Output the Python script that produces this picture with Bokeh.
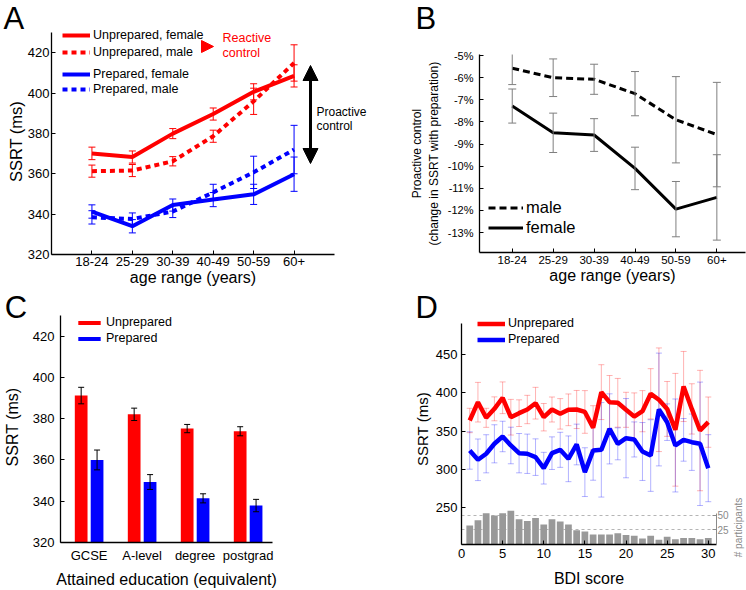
import math
from bokeh.plotting import figure
from bokeh.models import (ColumnDataSource, Whisker, TeeHead, Legend, LegendItem,
                          FixedTicker, Label, Arrow, NormalHead, LinearAxis, Range1d,
                          PrintfTickFormatter, Grid)
from bokeh.layouts import column, row
from bokeh.embed import file_html
from bokeh.resources import INLINE

# ---------------- data ----------------
age_groups = ["18-24", "25-29", "30-39", "40-49", "50-59", "60+"]
unprep_female = [370.1, 368.3, 379.9, 389.6, 400.6, 408.5]
unprep_female_err = [3.1, 3.0, 2.5, 3.0, 4.0, 5.5]
unprep_male = [361.3, 361.6, 366.2, 378.6, 395.9, 414.9]
unprep_male_err = [3.0, 3.0, 2.3, 3.0, 6.5, 9.0]
prep_female = [341.3, 334.0, 344.5, 347.2, 349.8, 359.8]
prep_female_err = [3.3, 3.3, 3.0, 3.5, 5.0, 8.5]
prep_male = [338.4, 337.6, 341.3, 350.8, 360.7, 372.0]
prep_male_err = [3.3, 3.0, 3.0, 4.0, 8.0, 12.0]

proactive_male = [-5.57, -6.00, -6.07, -6.72, -7.90, -8.57]
proactive_male_err = [0.74, 0.85, 0.68, 1.00, 1.95, 2.36]
proactive_female = [-7.28, -8.49, -8.59, -10.10, -11.94, -11.41]
proactive_female_err = [0.77, 0.89, 0.74, 0.96, 1.25, 1.93]
proactive_ticks = [-13, -12, -11, -10, -9, -8, -7, -6, -5]

education = ["GCSE", "A-level", "degree", "postgrad"]
edu_unprep = [391.2, 382.1, 375.2, 373.9]
edu_unprep_err = [4.0, 3.0, 2.0, 2.2]
edu_prep = [360.0, 349.3, 341.4, 337.9]
edu_prep_err = [4.8, 3.6, 2.2, 3.0]
ssrt_ticks_ac = [320, 340, 360, 380, 400, 420]

bdi_score = list(range(1, 31))
bdi_unprep = [363.8, 387.8, 367.3, 379.1, 393.6, 368.1, 373.4, 378.2, 386.5, 368.1,
              378.2, 372.5, 377.8, 378.2, 375.0, 354.2, 401.0, 387.8, 387.0, 377.8,
              369.0, 376.0, 398.8, 391.0, 379.0, 351.6, 408.4, 379.0, 350.6, 361.6]
bdi_unprep_err = [16, 26, 12.5, 15.7, 20.8, 23.4, 17.5, 18.6, 20.8, 18,
                  16.4, 20, 20.8, 25, 28, 29, 36, 35, 32, 23,
                  31, 27, 33, 68, 36, 74, 46, 33, 79, 33]
bdi_prep = [324.4, 312.2, 320.1, 333.2, 342.8, 331.0, 320.9, 320.1, 315.7, 301.2,
            320.9, 325.3, 313.5, 332.3, 296.0, 324.4, 325.3, 352.8, 333.2, 340.6,
            338.9, 323.1, 317.8, 378.2, 361.6, 331.0, 338.4, 335.3, 333.2, 301.2]
bdi_prep_err = [24.5, 27.3, 25, 25, 20, 24, 25.8, 25.8, 24, 20.8,
                21.4, 23, 30, 26.7, 32, 39, 62, 46, 21, 52,
                23, 38, 47, 74, 24, 61, 28, 37, 81, 44]
bdi_participants = [32, 41, 53, 49, 53, 57, 43, 40, 45, 34, 43, 39, 34, 24, 22,
                    17, 17, 17, 19, 16, 15, 10, 15, 8, 13, 9, 11, 11, 9, 11]
bdi_ticks = [0, 5, 10, 15, 20, 25, 30]
ssrt_ticks_d = [250, 300, 350, 400, 450]
participant_ticks = [25, 50]

# ---------------- style ----------------
FONT = "Liberation Sans"
RED = "#ff0000"
BLUE = "#0000ff"
GRAY = "#8a8a8a"


def make_fig(ox, oy, w, h, mbl, mbr, mbt, mbb, xr, yr):
    p = figure(width=w, height=h, x_range=Range1d(*xr), y_range=Range1d(*yr),
               output_backend="svg", toolbar_location=None, frame_align=False,
               min_border_left=mbl, min_border_right=mbr,
               min_border_top=mbt, min_border_bottom=mbb)
    p.xgrid.visible = False
    p.ygrid.visible = False
    p.outline_line_color = None
    geom = dict(l=ox + mbl, t=oy + mbt, r=ox + w - mbr, b=oy + h - mbb, xr=xr, yr=yr)
    return p, geom


def page_to_data(g, px, py):
    x = g["xr"][0] + (px - g["l"]) / (g["r"] - g["l"]) * (g["xr"][1] - g["xr"][0])
    y = g["yr"][1] - (py - g["t"]) / (g["b"] - g["t"]) * (g["yr"][1] - g["yr"][0])
    return x, y


def legend_loc(g, glyph_left, first_center, n, row_h, spacing):
    top = first_center - row_h / 2.0
    bottom = top + n * row_h + (n - 1) * spacing
    return (glyph_left - g["l"], g["b"] - bottom)


def style_axis(ax, tick_px, label_px, standoff, label_standoff):
    ax.axis_line_color = "black"
    ax.axis_line_width = 1.3
    ax.major_tick_in = 4
    ax.major_tick_out = 0
    ax.major_tick_line_color = "black"
    ax.minor_tick_line_color = None
    ax.major_label_text_font = FONT
    ax.major_label_text_font_size = f"{tick_px}px"
    ax.major_label_text_color = "black"
    ax.major_label_standoff = standoff
    ax.axis_label_text_font = FONT
    ax.axis_label_text_font_size = f"{label_px}px"
    ax.axis_label_text_font_style = "normal"
    ax.axis_label_text_color = "black"
    ax.axis_label_standoff = label_standoff


def style_legend(lg, font_px, gw, gh, spacing):
    lg.label_text_font = FONT
    lg.label_text_font_size = f"{font_px}px"
    lg.label_text_color = "black"
    lg.glyph_width = gw
    lg.glyph_height = gh
    lg.label_height = gh
    lg.spacing = spacing
    lg.padding = 0
    lg.margin = 0
    lg.label_standoff = 3
    lg.background_fill_alpha = 0
    lg.border_line_alpha = 0


def add_err(p, xs, ys, errs, color, cap, alpha=1.0, level="annotation"):
    src = ColumnDataSource(dict(base=list(xs),
                                lower=[y - e for y, e in zip(ys, errs)],
                                upper=[y + e for y, e in zip(ys, errs)]))
    w = Whisker(source=src, base="base", lower="lower", upper="upper",
                line_color=color, line_alpha=alpha, line_width=1, level=level,
                upper_head=TeeHead(size=cap, line_color=color, line_alpha=alpha, line_width=1),
                lower_head=TeeHead(size=cap, line_color=color, line_alpha=alpha, line_width=1))
    p.add_layout(w)


def add_text(p, g, px, baseline_py, text, size, color="black", place="center"):
    # anchor at the vertical middle of the text box, computed from the wanted baseline
    x, y = page_to_data(g, px, baseline_py - 0.35 * size)
    lab = Label(x=x, y=y, text=text, text_font=FONT, text_font_size=f"{size}px",
                text_color=color, text_align="left", text_baseline="middle")
    p.add_layout(lab, place)


LETTER = 31

# ================= Panel A =================
pA, gA = make_fig(0, 0, 373, 289, 51, 39, 28, 35, (-1, 6), (320, 431.98))
age_x = list(range(len(age_groups)))
for e_vals, vals, col in [(unprep_female_err, unprep_female, RED), (unprep_male_err, unprep_male, RED),
                          (prep_female_err, prep_female, BLUE), (prep_male_err, prep_male, BLUE)]:
    add_err(pA, age_x, vals, e_vals, col, 7)
rA1 = pA.line(age_x, unprep_female, line_color=RED, line_width=4)
rA2 = pA.line(age_x, unprep_male, line_color=RED, line_width=4, line_dash="5 4")
rA3 = pA.line(age_x, prep_female, line_color=BLUE, line_width=4)
rA4 = pA.line(age_x, prep_male, line_color=BLUE, line_width=4, line_dash="5 4")
pA.xaxis.ticker = FixedTicker(ticks=age_x)
pA.xaxis.major_label_overrides = {i: s for i, s in enumerate(age_groups)}
pA.yaxis.ticker = FixedTicker(ticks=ssrt_ticks_ac)
pA.yaxis.bounds = (320, 430)
pA.xaxis.axis_label = "age range (years)"
pA.yaxis.axis_label = "SSRT (ms)"
style_axis(pA.xaxis[0], 13, 16, 2, 0)
style_axis(pA.yaxis[0], 13, 16.5, 2, 0)

legA1 = Legend(items=[LegendItem(label="Unprepared, female", renderers=[rA1]),
                      LegendItem(label="Unprepared, male", renderers=[rA2])],
               location=legend_loc(gA, 62, 35.2, 2, 14, 3))
style_legend(legA1, 12.5, 28, 14, 3)
legA2 = Legend(items=[LegendItem(label="Prepared, female", renderers=[rA3]),
                      LegendItem(label="Prepared, male", renderers=[rA4])],
               location=legend_loc(gA, 62, 74, 2, 14, 1))
style_legend(legA2, 12.5, 28, 14, 1)
pA.add_layout(legA1)
pA.add_layout(legA2)

add_text(pA, gA, 3, 29, "A", LETTER, place="right")
add_text(pA, gA, 222, 42, "Reactive", 12.5, RED)
add_text(pA, gA, 222, 57, "control", 12.5, RED)
add_text(pA, gA, 316, 116, "Proactive", 12, place="above")
add_text(pA, gA, 316, 130, "control", 12, place="above")
tx0, ty0 = page_to_data(gA, 203, 46)
tx1, ty1 = page_to_data(gA, 213, 46)
pA.add_layout(Arrow(x_start=tx0, y_start=ty0, x_end=tx1, y_end=ty1, line_alpha=0,
                    end=NormalHead(size=12, fill_color=RED, line_color=RED), start=None))
ax0, ay0 = page_to_data(gA, 310, 163)
ax1, ay1 = page_to_data(gA, 310, 65)
pA.add_layout(Arrow(x_start=ax0, y_start=ay0, x_end=ax1, y_end=ay1, line_width=3, line_color="black",
                    end=NormalHead(size=15, fill_color="black", line_color="black"),
                    start=NormalHead(size=15, fill_color="black", line_color="black")))

# ================= Panel B =================
pB, gB = make_fig(373, 0, 373, 289, 106, 1, 54, 37, (-0.8, 5.70), (-13.9, -4.95))
add_err(pB, age_x, proactive_male, proactive_male_err, "#7f7f7f", 8)
add_err(pB, age_x, proactive_female, proactive_female_err, "#7f7f7f", 8)
rB1 = pB.line(age_x, proactive_male, line_color="black", line_width=3, line_dash="7 4")
rB2 = pB.line(age_x, proactive_female, line_color="black", line_width=3)
pB.xaxis.ticker = FixedTicker(ticks=age_x)
pB.xaxis.major_label_overrides = {i: s for i, s in enumerate(age_groups)}
pB.yaxis.ticker = FixedTicker(ticks=proactive_ticks)
pB.yaxis.formatter = PrintfTickFormatter(format="%d%%")
pB.xaxis.axis_label = "age range (years)"
pB.yaxis.axis_label = "Proactive control\n(change in SSRT with preparation)"
style_axis(pB.xaxis[0], 11.5, 16, 3, 0)
style_axis(pB.yaxis[0], 11, 12, 6, 4)
legB = Legend(items=[LegendItem(label="male", renderers=[rB1]),
                     LegendItem(label="female", renderers=[rB2])],
              location=legend_loc(gB, 488, 207.3, 2, 19, 1))
style_legend(legB, 16.5, 35, 19, 1)
pB.add_layout(legB)
add_text(pB, gB, 415, 29, "B", LETTER, place="left")

# ================= Panel C =================
C_EXTRA = 4
pC, gC = make_fig(0, 289, 373, 301, 59, 101, 26 - C_EXTRA, 47, (-0.54, 3.46),
                  (320, 430 + C_EXTRA * 110 / 228))
edu_x = list(range(len(education)))
bar_off = 0.15
bar_w = 0.24
x_un = [i - bar_off for i in edu_x]
x_pr = [i + bar_off for i in edu_x]
rC1 = pC.vbar(x=x_un, top=edu_unprep, bottom=0, width=bar_w, fill_color=RED, line_color=None)
rC2 = pC.vbar(x=x_pr, top=edu_prep, bottom=0, width=bar_w, fill_color=BLUE, line_color=None)
add_err(pC, x_un, edu_unprep, edu_unprep_err, "black", 6)
add_err(pC, x_pr, edu_prep, edu_prep_err, "black", 6)
pC.xaxis.ticker = FixedTicker(ticks=edu_x)
pC.xaxis.major_label_overrides = {i: s for i, s in enumerate(education)}
pC.yaxis.ticker = FixedTicker(ticks=ssrt_ticks_ac)
pC.yaxis.bounds = (320, 430)
pC.xaxis.axis_label = "Attained education (equivalent)"
pC.yaxis.axis_label = "SSRT (ms)"
style_axis(pC.xaxis[0], 13, 16, 5, 5)
pC.xaxis[0].major_tick_line_color = None
style_axis(pC.yaxis[0], 13, 16, 6, 9)
legC = Legend(items=[LegendItem(label="Unprepared", renderers=[rC1]),
                     LegendItem(label="Prepared", renderers=[rC2])],
              location=legend_loc(gC, 74, 323.3, 2, 15, 1))
style_legend(legC, 12.5, 28, 15, 1)
legC.glyph_height = 5
pC.add_layout(legC)
add_text(pC, gC, 3, 318, "C", LETTER, place="right")

# ================= Panel D =================
D_PXMS = 0.762
pD, gD = make_fig(373, 289, 373, 301, 88, 30, 24, 46, (0, 31),
                  (450 - (544 - 354.3) / D_PXMS, 450 + (354.3 - 313) / D_PXMS))
pD.extra_y_ranges = {"hist": Range1d(0, 231 / 0.59)}
pD.add_layout(Grid(dimension=1, ticker=FixedTicker(ticks=participant_ticks), y_range_name="hist",
                   grid_line_color="#b5b5b5", grid_line_dash="3 3", grid_line_width=1))
pD.vbar(x=bdi_score, top=bdi_participants, bottom=0, width=0.82, y_range_name="hist",
        fill_color="#999999", line_color=None)
add_err(pD, bdi_score, bdi_unprep, bdi_unprep_err, RED, 6, alpha=0.3, level="underlay")
add_err(pD, bdi_score, bdi_prep, bdi_prep_err, BLUE, 6, alpha=0.3, level="underlay")
rD1 = pD.line(bdi_score, bdi_unprep, line_color=RED, line_width=4.5)
rD2 = pD.line(bdi_score, bdi_prep, line_color=BLUE, line_width=4.5)
pD.xaxis.ticker = FixedTicker(ticks=bdi_ticks)
pD.yaxis.ticker = FixedTicker(ticks=ssrt_ticks_d)
pD.yaxis.bounds = (450 - (544 - 354.3) / D_PXMS, 450 + (354.3 - 322.7) / D_PXMS)
pD.xaxis.axis_label = "BDI score"
pD.yaxis.axis_label = "SSRT (ms)"
style_axis(pD.xaxis[0], 13, 16, 4, 9)
style_axis(pD.yaxis[0], 13, 15, 4, 2)
hist_axis = LinearAxis(y_range_name="hist", ticker=FixedTicker(ticks=participant_ticks), bounds=(0, 53))
style_axis(hist_axis, 10, 10, 1, 0)
hist_axis.axis_line_color = GRAY
hist_axis.major_tick_line_color = GRAY
hist_axis.major_label_text_color = GRAY
hist_axis.axis_line_width = 1
pD.add_layout(hist_axis, "right")
legD = Legend(items=[LegendItem(label="Unprepared", renderers=[rD1]),
                     LegendItem(label="Prepared", renderers=[rD2])],
              location=legend_loc(gD, 477, 323.3, 2, 15, 1))
style_legend(legD, 12.5, 28, 15, 1)
pD.add_layout(legD)
add_text(pD, gD, 415, 318, "D", LETTER, place="left")
px_x, px_y = page_to_data(gD, 743, 527)
pD.add_layout(Label(x=px_x, y=px_y, text="# participants", text_font=FONT, text_font_size="10px",
                    text_color=GRAY, text_align="center", text_baseline="bottom",
                    angle=math.pi / 2), "right")

layout = column(row(pA, pB), row(pC, pD))
open("out.html", "w").write(file_html(layout, INLINE))
